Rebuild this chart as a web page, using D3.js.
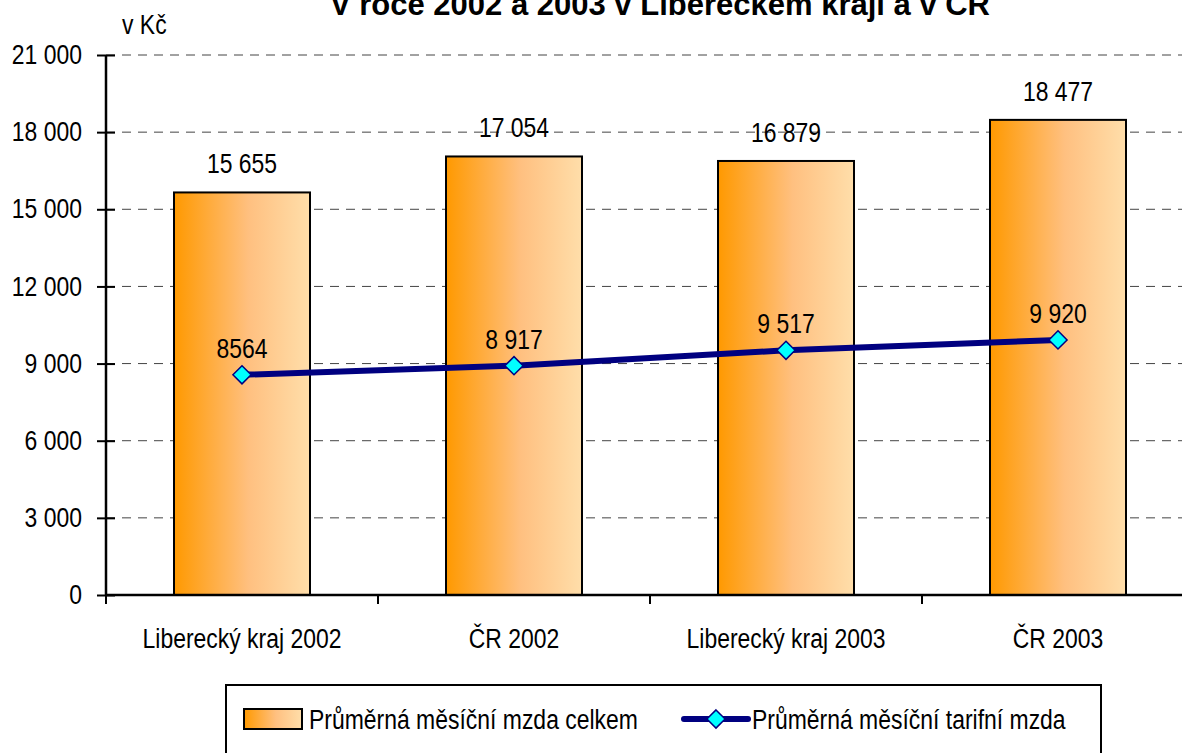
<!DOCTYPE html>
<html>
<head>
<meta charset="utf-8">
<script src="https://cdn.jsdelivr.net/npm/d3@7"></script>
<style>
  body { margin: 0; background: #fff; }
  text { font-family: "Liberation Sans", Arial, sans-serif; }
</style>
</head>
<body>
<svg id="chart" width="1182" height="753"></svg>
<script>
const categories = ["Liberecký kraj 2002", "ČR 2002", "Liberecký kraj 2003", "ČR 2003"];
const celkem = [15655, 17054, 16879, 18477];
const tarifni = [8564, 8917, 9517, 9920];
const celkemLabels = ["15 655", "17 054", "16 879", "18 477"];
const tarifniLabels = ["8564", "8 917", "9 517", "9 920"];
const yTicks = [0, 3000, 6000, 9000, 12000, 15000, 18000, 21000];
const seriesNames = ["Průměrná měsíční mzda celkem", "Průměrná měsíční tarifní mzda"];

const svg = d3.select("#chart");
const mLeft = 106, mRight = 1194, mTop = 55, mBottom = 595;
const FS = 27, SX = 0.85; // narrow-looking text

const x = d3.scaleBand().domain(categories).range([mLeft, mRight]).paddingInner(0.5).paddingOuter(0.25);
const xc = d3.scaleBand().domain(categories).range([mLeft, mRight]);
const y = d3.scaleLinear().domain([0, 21000]).range([mBottom, mTop]);
const fmt = v => d3.format(",")(v).replace(/,/g, " ");

// condensed text helper
function ntext(parent, px, py, str, anchor) {
  return parent.append("text")
    .attr("transform", `translate(${px},${py}) scale(${SX},1)`)
    .attr("text-anchor", anchor || "start")
    .attr("font-size", FS).text(str);
}

// gradient
const defs = svg.append("defs");
const g = defs.append("linearGradient").attr("id", "barGrad").attr("x1", "0%").attr("x2", "100%");
g.append("stop").attr("offset", "0%").attr("stop-color", "#ff9900");
g.append("stop").attr("offset", "55%").attr("stop-color", "#ffc080");
g.append("stop").attr("offset", "100%").attr("stop-color", "#ffdeaa");

// title (top is cut off, like in the original)
svg.append("text").attr("x", 660).attr("y", 15).attr("text-anchor", "middle")
  .attr("font-size", 31).attr("font-weight", "bold")
  .text("V roce 2002 a 2003 v Libereckém kraji a v ČR");
ntext(svg, 122, 34, "v  Kč");

// gridlines
svg.append("g").selectAll("line").data(yTicks.filter(d => d > 0)).join("line")
  .attr("x1", mLeft).attr("x2", mRight).attr("y1", d => y(d)).attr("y2", d => y(d))
  .attr("stroke", "#444").attr("stroke-width", 1).attr("stroke-dasharray", "9,7");

// bars
svg.append("g").selectAll("rect").data(celkem).join("rect")
  .attr("x", (d, i) => x(categories[i])).attr("width", x.bandwidth())
  .attr("y", d => y(d)).attr("height", d => mBottom - y(d))
  .attr("fill", "url(#barGrad)").attr("stroke", "#000").attr("stroke-width", 2);

const barLbl = svg.append("g");
celkem.forEach((d, i) => ntext(barLbl, x(categories[i]) + x.bandwidth() / 2, y(d) - 19, celkemLabels[i], "middle"));

// axes
const yAxis = d3.axisLeft(y).tickValues(yTicks).tickFormat(fmt).tickSize(9).tickPadding(15);
const gy = svg.append("g").attr("transform", `translate(${mLeft},0)`).call(yAxis);
gy.select(".domain").attr("stroke-width", 2.5).attr("d", `M0,${mTop}V${mBottom}`);
gy.selectAll(".tick line").attr("stroke-width", 2).attr("x2", 9).attr("x1", -9);
gy.selectAll(".tick text").attr("font-size", FS).attr("font-family", null)
  .attr("x", 0).attr("transform", `translate(-24,0) scale(${SX},1)`);

const gx = svg.append("g").attr("transform", `translate(0,${mBottom})`);
gx.append("line").attr("x1", mLeft).attr("x2", mRight).attr("stroke", "#000").attr("stroke-width", 2.5);
gx.selectAll(".bt").data(categories).join("line").attr("class", "bt")
  .attr("x1", d => xc(d)).attr("x2", d => xc(d)).attr("y1", 0).attr("y2", 9)
  .attr("stroke", "#000").attr("stroke-width", 2);
categories.forEach(c => ntext(gx, xc(c) + xc.bandwidth() / 2, 53, c, "middle"));

// line
const cx = (d, i) => xc(categories[i]) + xc.bandwidth() / 2;
const line = d3.line().x(cx).y(d => y(d));
svg.append("path").datum(tarifni).attr("d", line)
  .attr("fill", "none").attr("stroke", "#000080").attr("stroke-width", 6);
const diamond = d3.symbol().type(d3.symbolDiamond2).size(210);
svg.append("g").selectAll("path").data(tarifni).join("path")
  .attr("transform", (d, i) => `translate(${cx(d, i)},${y(d)})`)
  .attr("d", diamond).attr("fill", "#00ffff").attr("stroke", "#000080").attr("stroke-width", 1.5);
const lineLbl = svg.append("g");
tarifni.forEach((d, i) => ntext(lineLbl, cx(d, i), y(d) - 17, tarifniLabels[i], "middle"));

// legend
const lg = svg.append("g");
lg.append("rect").attr("x", 226).attr("y", 685).attr("width", 875).attr("height", 80)
  .attr("fill", "#fff").attr("stroke", "#000").attr("stroke-width", 2);
lg.append("rect").attr("x", 244).attr("y", 709).attr("width", 58).attr("height", 20)
  .attr("fill", "url(#barGrad)").attr("stroke", "#000").attr("stroke-width", 2);
ntext(lg, 309, 729, seriesNames[0]);
lg.append("line").attr("x1", 684).attr("x2", 748).attr("y1", 719).attr("y2", 719)
  .attr("stroke", "#000080").attr("stroke-width", 6).attr("stroke-linecap", "round");
lg.append("path").attr("transform", "translate(716,719)").attr("d", diamond)
  .attr("fill", "#00ffff").attr("stroke", "#000080").attr("stroke-width", 1.5);
ntext(lg, 752, 729, seriesNames[1]);
</script>
</body>
</html>
